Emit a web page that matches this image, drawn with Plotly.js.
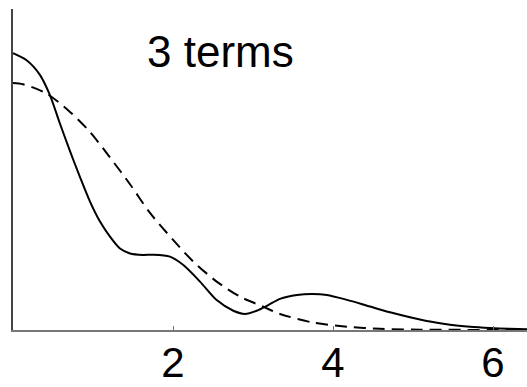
<!DOCTYPE html>
<html>
<head>
<meta charset="utf-8">
<script src="https://cdn.plot.ly/plotly-3.0.1.min.js"></script>
<style>html,body{margin:0;padding:0;background:#fff;}#chart{width:527px;height:387px;}</style>
</head>
<body>
<div id="chart"></div>
<script>
const solidX = [0, 0.166, 0.334, 0.459, 0.5875, 0.7125, 0.8375, 0.9625, 1.0875, 1.2125, 1.3375, 1.4625, 1.625, 1.75, 1.9625, 2.129, 2.3375, 2.546, 2.754, 2.9, 3.046, 3.191, 3.3375, 3.55, 3.7375, 3.925, 4.175, 4.4625, 4.7125, 4.9625, 5.2125, 5.4625, 5.7125, 5.9625, 6.2, 6.425];
const solidY = [1.121, 1.093, 1.034, 0.953, 0.835, 0.724, 0.619, 0.520, 0.439, 0.378, 0.330, 0.310, 0.304, 0.305, 0.297, 0.263, 0.196, 0.121, 0.078, 0.065, 0.078, 0.101, 0.126, 0.142, 0.146, 0.142, 0.122, 0.095, 0.072, 0.052, 0.034, 0.021, 0.013, 0.008, 0.005, 0.003];
const dashX = [0, 0.125, 0.416, 0.709, 0.959, 1.209, 1.4625, 1.7125, 2.004, 2.254, 2.546, 2.8375, 3.129, 3.3375, 3.75, 4.175, 4.5875, 5.0875, 6.425];
const dashY = [1.000, 0.995, 0.958, 0.884, 0.803, 0.700, 0.590, 0.474, 0.364, 0.277, 0.196, 0.135, 0.094, 0.065, 0.030, 0.013, 0.005, 0.0015, 0.0];
const tickVals = [2, 4, 6];
const tickText = ['2', '4', '6'];
const label = '3 terms';

const traces = [
  {x: solidX, y: solidY, mode: 'lines', line: {color: '#000', width: 2, shape: 'spline', smoothing: 0.8}, hoverinfo: 'skip'},
  {x: dashX, y: dashY, mode: 'lines', line: {color: '#000', width: 2, dash: '12px,7px', shape: 'spline', smoothing: 0.8}, hoverinfo: 'skip'}
];
const layout = {
  width: 527, height: 387,
  margin: {l: 13, r: 0, t: 9, b: 57, pad: 0},
  paper_bgcolor: '#fff', plot_bgcolor: '#fff',
  showlegend: false,
  font: {family: 'Liberation Sans, Arial, sans-serif', color: '#000'},
  xaxis: {range: [0, 6.425], showgrid: false, zeroline: false, showline: true, linecolor: '#777', linewidth: 2,
    tickmode: 'array', tickvals: tickVals, ticktext: tickText, ticks: 'inside', ticklen: 4, tickcolor: '#777', tickwidth: 1,
    ticklabelstandoff: -5,
    tickfont: {size: 42, color: '#000'}},
  yaxis: {range: [0, 1.2996], showgrid: false, zeroline: false, showline: true, linecolor: '#444', linewidth: 2,
    showticklabels: false, ticks: ''},
  annotations: [{text: label, xref: 'paper', yref: 'paper', x: (220-13)/514, y: (330-51)/321, xanchor: 'center', yanchor: 'middle', showarrow: false, font: {size: 44, color: '#000'}}]
};
Plotly.newPlot('chart', traces, layout, {staticPlot: true, displayModeBar: false});
</script>
</body>
</html>
